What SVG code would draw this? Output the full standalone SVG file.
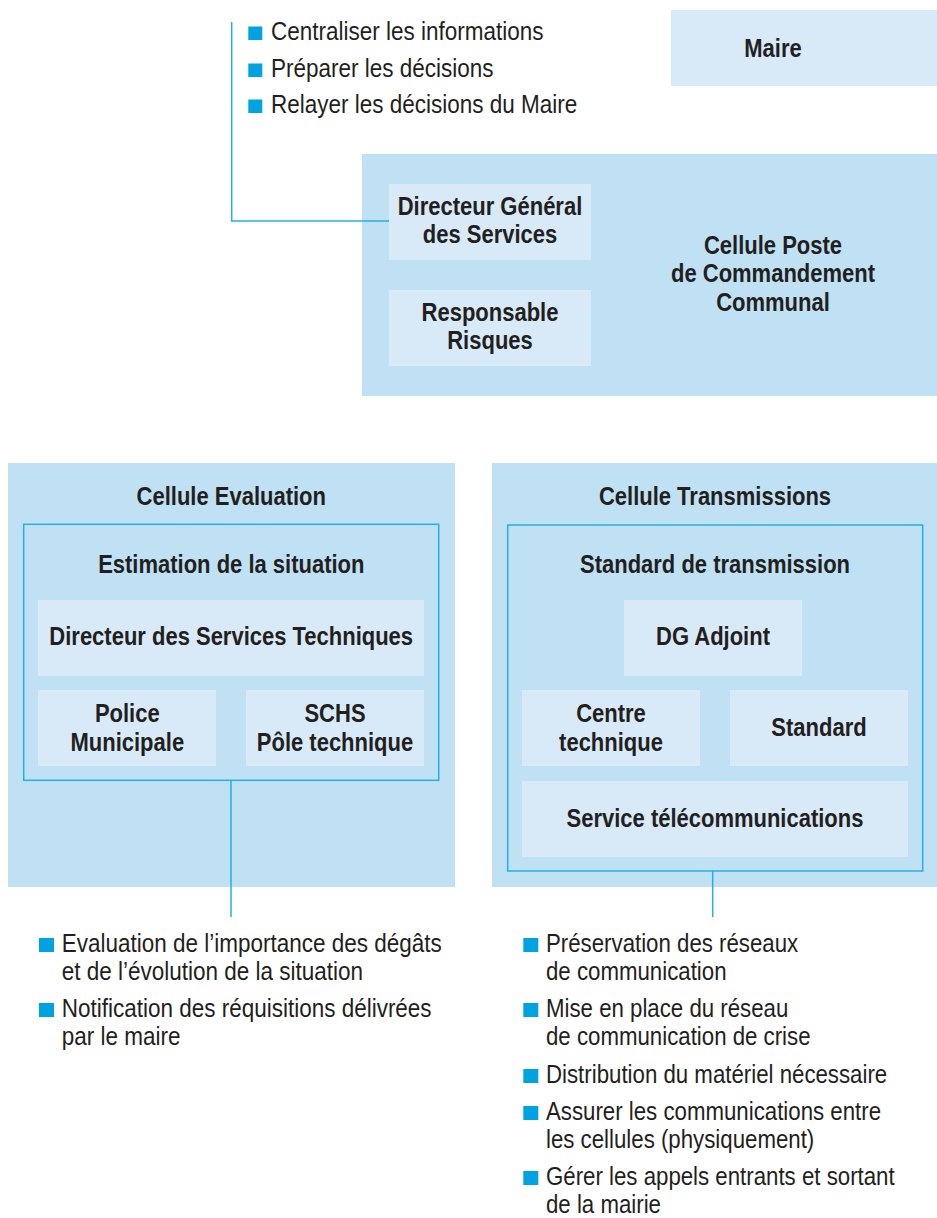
<svg xmlns="http://www.w3.org/2000/svg" width="937" height="1218" viewBox="0 0 937 1218">
<style>
.outer{fill:#c0e1f4}
.inner{fill:#d8eaf8}
.frame{fill:none;stroke:#22b0e6;stroke-width:1.5}
.conn{fill:none;stroke:#22b0e6;stroke-width:1.5}
.bul{fill:#00a3e0}
text{font-family:"Liberation Sans",Arial,sans-serif;fill:#231f20}
.b{font-weight:bold;font-size:25px;text-anchor:middle}
.r{font-size:25px}
</style>
<rect width="937" height="1218" fill="#ffffff"/>

<g id="maire">
<rect class="inner" x="671" y="10" width="266" height="76"/>
<text class="b" transform="translate(773,57) scale(0.88,1)">Maire</text>
</g>

<g id="cellule-pcc">
<rect class="outer" x="362" y="154" width="575" height="242"/>
<text class="b" transform="translate(773,254) scale(0.88,1)">Cellule Poste<tspan x="0" dy="28.5">de Commandement</tspan><tspan x="0" dy="28.5">Communal</tspan></text>
</g>

<g id="dgs">
<rect class="inner" x="389" y="184" width="202" height="76"/>
<text class="b" transform="translate(490,215) scale(0.88,1)">Directeur Général<tspan x="0" dy="28.3">des Services</tspan></text>
</g>

<g id="responsable-risques">
<rect class="inner" x="389" y="290" width="202" height="76"/>
<text class="b" transform="translate(490,320.7) scale(0.88,1)">Responsable<tspan x="0" dy="28.5">Risques</tspan></text>
</g>

<g id="pcc-missions">
<rect class="bul" x="248.3" y="26.5" width="14" height="13.5"/>
<text class="r" transform="translate(271,40) scale(0.9,1)">Centraliser les informations</text>
<rect class="bul" x="248.3" y="63.5" width="14" height="13.5"/>
<text class="r" transform="translate(271,77) scale(0.9,1)">Préparer les décisions</text>
<rect class="bul" x="248.3" y="99.5" width="14" height="13.5"/>
<text class="r" transform="translate(271,113) scale(0.9,1)">Relayer les décisions du Maire</text>
</g>

<g id="cellule-evaluation">
<rect class="outer" x="8" y="463" width="447" height="424"/>
<text class="b" transform="translate(231.3,505) scale(0.88,1)">Cellule Evaluation</text>
</g>

<g id="estimation-situation">
<rect class="frame" x="23.7" y="524.3" width="415" height="256"/>
<text class="b" transform="translate(231.3,573.3) scale(0.88,1)">Estimation de la situation</text>
</g>

<g id="dst">
<rect class="inner" x="38" y="600" width="386" height="76"/>
<text class="b" transform="translate(231.2,645) scale(0.88,1)">Directeur des Services Techniques</text>
</g>

<g id="police">
<rect class="inner" x="38" y="690" width="178" height="76"/>
<text class="b" transform="translate(127.3,721.7) scale(0.88,1)">Police<tspan x="0" dy="29">Municipale</tspan></text>
</g>

<g id="schs">
<rect class="inner" x="246" y="690" width="178" height="76"/>
<text class="b" transform="translate(335,721.7) scale(0.88,1)">SCHS<tspan x="0" dy="29">Pôle technique</tspan></text>
</g>

<g id="evaluation-missions">
<rect class="bul" x="39" y="938" width="15" height="14"/>
<text class="r" transform="translate(61.7,952) scale(0.9,1)">Evaluation de l’importance des dégâts<tspan x="0" dy="28">et de l’évolution de la situation</tspan></text>
<rect class="bul" x="39" y="1003" width="15" height="14"/>
<text class="r" transform="translate(61.7,1017) scale(0.9,1)">Notification des réquisitions délivrées<tspan x="0" dy="28">par le maire</tspan></text>
</g>

<g id="cellule-transmissions">
<rect class="outer" x="492" y="463" width="445" height="424"/>
<text class="b" transform="translate(715,505) scale(0.88,1)">Cellule Transmissions</text>
</g>

<g id="standard-transmission">
<rect class="frame" x="507.7" y="525" width="415" height="346"/>
<text class="b" transform="translate(715,573.3) scale(0.88,1)">Standard de transmission</text>
</g>

<g id="dg-adjoint">
<rect class="inner" x="624" y="600" width="178" height="76"/>
<text class="b" transform="translate(713,645) scale(0.88,1)">DG Adjoint</text>
</g>

<g id="centre-technique">
<rect class="inner" x="522" y="690" width="178" height="76"/>
<text class="b" transform="translate(611,721.7) scale(0.88,1)">Centre<tspan x="0" dy="29">technique</tspan></text>
</g>

<g id="standard">
<rect class="inner" x="730" y="690" width="178" height="76"/>
<text class="b" transform="translate(819,735.7) scale(0.88,1)">Standard</text>
</g>

<g id="service-telecom">
<rect class="inner" x="522" y="781" width="386" height="76"/>
<text class="b" transform="translate(715,826.7) scale(0.88,1)">Service télécommunications</text>
</g>

<g id="transmissions-missions">
<rect class="bul" x="523.3" y="938" width="15" height="14"/>
<text class="r" transform="translate(546,952) scale(0.89,1)">Préservation des réseaux<tspan x="0" dy="28">de communication</tspan></text>
<rect class="bul" x="523.3" y="1003" width="15" height="14"/>
<text class="r" transform="translate(546,1017) scale(0.89,1)">Mise en place du réseau<tspan x="0" dy="28">de communication de crise</tspan></text>
<rect class="bul" x="523.3" y="1069" width="15" height="14"/>
<text class="r" transform="translate(546,1083) scale(0.89,1)">Distribution du matériel nécessaire</text>
<rect class="bul" x="523.3" y="1106" width="15" height="14"/>
<text class="r" transform="translate(546,1120) scale(0.89,1)">Assurer les communications entre<tspan x="0" dy="28">les cellules (physiquement)</tspan></text>
<rect class="bul" x="523.3" y="1171" width="15" height="14"/>
<text class="r" transform="translate(546,1185) scale(0.89,1)">Gérer les appels entrants et sortant<tspan x="0" dy="28">de la mairie</tspan></text>
</g>

<g id="connectors">
<polyline class="conn" points="231.7,22 231.7,221 389,221"/>
<line class="conn" x1="231" y1="780.3" x2="231" y2="917"/>
<line class="conn" x1="712.7" y1="871" x2="712.7" y2="917"/>
</g>
</svg>
